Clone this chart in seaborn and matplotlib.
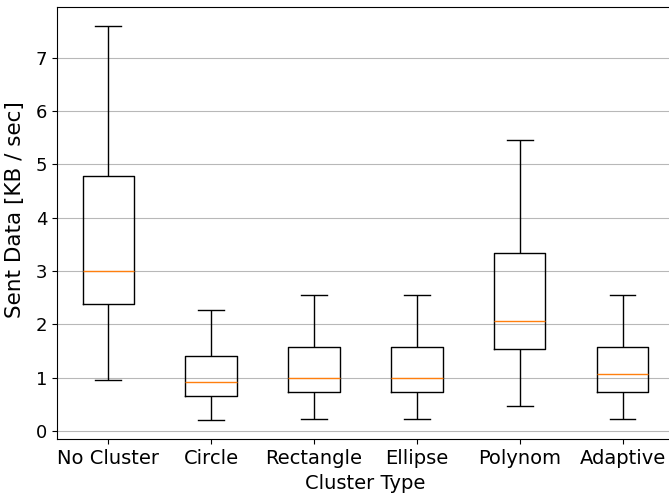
import matplotlib
matplotlib.use("Agg")
import matplotlib.pyplot as plt
import seaborn as sns
import pandas as pd

categories = ["No Cluster", "Circle", "Rectangle", "Ellipse", "Polynom", "Adaptive"]
whisker_low = [0.95, 0.21, 0.23, 0.23, 0.46, 0.23]
q1 = [2.38, 0.66, 0.72, 0.72, 1.53, 0.72]
median = [3.00, 0.91, 1.00, 1.00, 2.06, 1.06]
q3 = [4.78, 1.41, 1.58, 1.58, 3.34, 1.58]
whisker_high = [7.59, 2.26, 2.54, 2.54, 5.45, 2.54]

rows = []
for i, c in enumerate(categories):
    for v in (whisker_low[i], q1[i], median[i], q3[i], whisker_high[i]):
        rows.append({"Cluster Type": c, "Sent": v})
df = pd.DataFrame(rows)

plt.rcParams["font.family"] = ["DejaVu Sans"]
fig = plt.figure(figsize=(6.69, 4.97), dpi=100)
ax = fig.add_axes([0.0849, 0.1161, 0.9226, 0.8704])

sns.boxplot(data=df, x="Cluster Type", y="Sent", order=categories, ax=ax,
            fill=False, color="black", width=0.5, whis=(0, 100),
            linewidth=1.0,
            medianprops={"color": "#ff7f0e", "linewidth": 1.0},
            showfliers=False)

ax.set_xlim(-0.5, 5.5)
ax.margins(y=0.05)
ax.yaxis.grid(True, color="#b8b8b8", linewidth=0.8)
ax.xaxis.grid(False)
ax.set_axisbelow(True)
ax.set_xlabel("Cluster Type", fontsize=14)
ax.set_ylabel("Sent Data [KB / sec]", fontsize=15.5)
ax.yaxis.set_label_coords(-0.052, 0.53)
ax.tick_params(axis="x", labelsize=14)
ax.tick_params(axis="y", labelsize=13)
for s in ax.spines.values():
    s.set_color("black")
    s.set_linewidth(0.8)

fig.savefig("out.png", dpi=100)
